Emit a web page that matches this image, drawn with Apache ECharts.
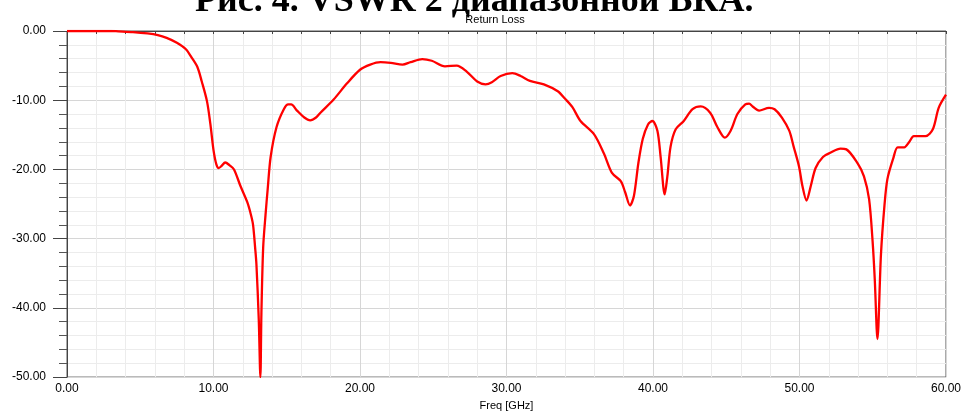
<!DOCTYPE html>
<html>
<head>
<meta charset="utf-8">
<script src="https://cdn.jsdelivr.net/npm/echarts@6/dist/echarts.min.js"></script>
<style>
html,body{margin:0;padding:0;background:#fff;}
#chart{width:965px;height:416px;}
</style>
</head>
<body>
<div id="chart"></div>
<script>
var pageTitle = 'Рис. 4. VSWR 2 диапазонной ВКА.';
var chartTitle = 'Return Loss';
var xAxisName = 'Freq [GHz]';
var xTicks = [0, 10, 20, 30, 40, 50, 60];
var yTicks = [0, -10, -20, -30, -40, -50];

var freq = [0, 1, 2, 3, 3.5, 4.5, 5.5, 6.2, 6.8, 7.5, 8.1, 8.5, 8.9, 9.2, 9.56, 9.79, 10.0, 10.2, 10.36, 10.55, 10.8, 11.1, 11.4, 11.84, 12.3, 12.55, 12.7, 12.85, 12.93, 13.09, 13.2, 13.27, 13.39, 13.55, 13.7, 13.9, 14.3, 14.8, 15.1, 15.3, 15.7, 16.2, 16.6, 17.0, 17.3, 18.2, 19.1, 20.0, 20.7, 21.4, 22.1, 22.9, 23.45, 24.25, 24.9, 25.8, 26.6, 27.3, 28.0, 28.57, 29.0, 29.6, 30.4, 30.96, 31.6, 32.55, 33.5, 34.0, 34.5, 35.05, 35.97, 36.65, 37.2, 37.8, 38.1, 38.43, 38.7, 39.0, 39.3, 39.66, 39.96, 40.3, 40.52, 40.8, 40.98, 41.2, 41.55, 42.1, 42.7, 43.26, 43.9, 44.4, 44.9, 45.3, 45.76, 46.3, 46.56, 46.8, 47.24, 47.92, 48.3, 48.8, 49.3, 49.6, 49.97, 50.2, 50.48, 50.77, 51.1, 51.6, 52.1, 52.8, 53.2, 53.96, 54.4, 54.75, 54.99, 55.14, 55.32, 55.56, 55.8, 56.0, 56.4, 56.7, 57.15, 57.5, 57.8, 58.6, 59.1, 59.5, 60];
var returnLoss = [0, 0, 0, 0, -0.05, -0.15, -0.35, -0.6, -1.0, -1.7, -2.6, -3.8, -5.2, -7.3, -10.2, -13.5, -17.2, -19.3, -19.8, -19.5, -19.0, -19.4, -20.0, -22.4, -24.7, -26.5, -28.0, -31.5, -33.7, -41.7, -50, -40.8, -31.3, -26.6, -22.8, -18.2, -13.9, -11.3, -10.6, -10.6, -11.5, -12.5, -12.9, -12.5, -11.8, -9.9, -7.6, -5.6, -4.85, -4.5, -4.6, -4.85, -4.5, -4.05, -4.3, -5.1, -5.0, -5.9, -7.3, -7.7, -7.4, -6.5, -6.1, -6.5, -7.2, -7.7, -8.7, -9.8, -11.0, -13.0, -14.9, -17.7, -20.5, -21.7, -23.3, -25.2, -23.8, -19.1, -15.6, -13.5, -13.0, -14.4, -18.2, -23.6, -21.0, -16.7, -14.2, -13.0, -11.3, -10.9, -11.8, -13.9, -15.4, -14.4, -12.0, -10.6, -10.5, -10.9, -11.5, -11.1, -11.3, -12.5, -14.4, -16.7, -19.6, -22.4, -24.5, -22.4, -19.8, -18.2, -17.6, -17.0, -17.1, -19.1, -21.0, -24.3, -30.4, -36.0, -44.5, -32.3, -25.2, -21.4, -18.4, -16.8, -16.8, -16.0, -15.2, -15.2, -14.2, -11.1, -9.2];

var seriesData = freq.map(function (f, i) { return [f, returnLoss[i]]; });

var chart = echarts.init(document.getElementById('chart'), null, {renderer: 'canvas'});
chart.setOption({
  animation: false,
  backgroundColor: '#ffffff',
  graphic: [
    {
      type: 'text', left: 195, top: -16, z: 10,
      style: { text: pageTitle, font: 'bold 36px "Liberation Serif", "Times New Roman", serif', fill: '#000' }
    }
  ],
  title: {
    text: chartTitle, left: 490, top: 9, textAlign: 'center',
    textStyle: { fontFamily: 'Liberation Sans, Arial, sans-serif', fontSize: 11, fontWeight: 'normal', color: '#000' }
  },
  grid: { left: 67, right: 19, top: 31, bottom: 30, show: true, borderColor: '#555', borderWidth: 1, backgroundColor: 'transparent' },
  xAxis: {
    type: 'value', min: 0, max: 60, interval: 10,
    name: xAxisName, nameLocation: 'middle', nameGap: 22,
    nameTextStyle: { fontFamily: 'Liberation Sans, Arial, sans-serif', fontSize: 11, color: '#000' },
    axisLine: { show: true, lineStyle: { color: '#444', width: 1 } },
    axisTick: { show: true, length: 3, lineStyle: { color: '#444' } },
    minorTick: { show: true, splitNumber: 5, length: 3, lineStyle: { color: '#444' } },
    axisLabel: {
      margin: 6, color: '#000', fontFamily: 'Liberation Sans, Arial, sans-serif', fontSize: 12,
      formatter: function (v) { return xTicks.indexOf(v) >= 0 ? v.toFixed(2) : ''; }
    },
    splitLine: { show: true, lineStyle: { color: '#d6d6d6', width: 1 } },
    minorSplitLine: { show: true, lineStyle: { color: '#ececec', width: 1 } }
  },
  yAxis: {
    type: 'value', min: -50, max: 0, interval: 10,
    axisLine: { show: true, lineStyle: { color: '#444', width: 1 } },
    axisTick: { show: true, length: 14, lineStyle: { color: '#444' } },
    minorTick: { show: true, splitNumber: 5, length: 8, lineStyle: { color: '#555' } },
    axisLabel: {
      margin: 21, color: '#000', fontFamily: 'Liberation Sans, Arial, sans-serif', fontSize: 12,
      formatter: function (v) { return yTicks.indexOf(v) >= 0 ? v.toFixed(2) : ''; }
    },
    splitLine: { show: true, lineStyle: { color: '#d6d6d6', width: 1 } },
    minorSplitLine: { show: true, lineStyle: { color: '#ececec', width: 1 } }
  },
  series: [{
    type: 'line', data: seriesData, showSymbol: false, smooth: 0.3,
    lineStyle: { color: '#ff0000', width: 2.3 }, clip: true
  }]
});
</script>
</body>
</html>
